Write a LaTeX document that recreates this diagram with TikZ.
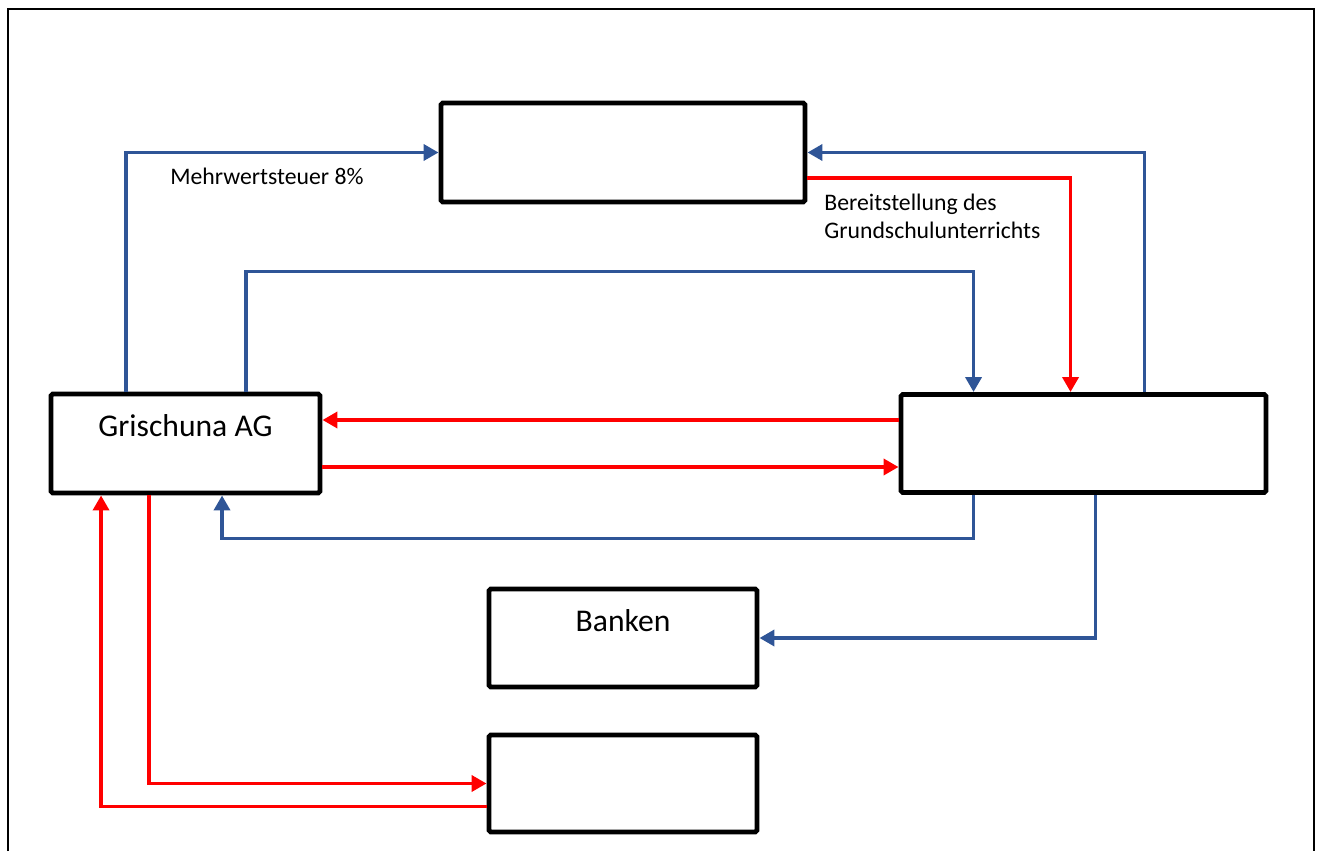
\documentclass[tikz,border=0pt]{standalone}
\usepackage{fontspec}
\setmainfont{Carlito}
\usetikzlibrary{arrows.meta}
\definecolor{flowblue}{RGB}{47,85,151}

\begin{document}
\begin{tikzpicture}[
	box/.style={draw, line width=2.8pt, rounded corners=1pt, fill=white},
	geld/.style={draw=flowblue, line width=2.1pt, -{Triangle[length=0.3cm,width=0.32cm]}},
	gut/.style={draw=red, line width=2.1pt, -{Triangle[length=0.3cm,width=0.32cm]}},
	boxtitle/.style={font=\fontsize{18}{22}\selectfont, anchor=base, yshift=-0.9cm},
	info/.style={font=\fontsize{13.5}{16.5}\selectfont, inner sep=0pt, align=left}
	]
\useasboundingbox (0,0) rectangle (26.44,17.02);
\draw[line width=1.1pt] (0.16,0) -- (0.16,16.84) -- (26.28,16.84) -- (26.28,0);

\node[box, minimum width=7.28cm, minimum height=1.98cm] at (12.46,13.97) (st){}; 
\node[box, minimum width=5.38cm, minimum height=1.98cm,
	label={[boxtitle]north:Grischuna AG}] at (3.71,8.15) (ga){}; 
\node[box, minimum width=7.30cm, minimum height=1.96cm] at (21.67,8.15) (hh){};
\node[box, minimum width=5.36cm, minimum height=1.96cm,
	label={[boxtitle]north:Banken}] at (12.46,4.26) (bk){}; 
\node[box, minimum width=5.36cm, minimum height=1.94cm] at (12.46,1.35) (lf){}; 

% blue flows
\draw[geld] ([xshift=1.55cm]ga.north west) |- (st.west);
\draw[geld] ([xshift=3.95cm]ga.north west) -- ++(0,2.4) -| ([xshift=1.5cm]hh.north west);
\draw[geld] ([xshift=4.92cm]hh.north west) |- (st.east);
\draw[geld] ([xshift=1.5cm]hh.south west) -- ++(0,-0.87) -| ([xshift=3.47cm]ga.south west);
\draw[geld] ([xshift=3.94cm]hh.south west) |- (bk.east);

% red flows
\draw[gut] ([yshift=-0.51cm]st.east) -| ([xshift=3.44cm]hh.north west);
\draw[gut] ([yshift=0.47cm]hh.west) -- ([yshift=0.47cm]ga.east);
\draw[gut] ([yshift=-0.47cm]ga.east) -- ([yshift=-0.47cm]hh.west);
\draw[gut] ([xshift=2.01cm]ga.south west) |- (lf.west);
\draw[gut] ([yshift=-0.46cm]lf.west) -| ([xshift=1.05cm]ga.south west);

\node[info, anchor=base west] at (3.4,13.32) (mw){Mehrwertsteuer 8\%};
\node[info, anchor=base west] at (16.48,12.24) (gs){Bereitstellung des\\Grundschulunterrichts};

\end{tikzpicture}
\end{document}
